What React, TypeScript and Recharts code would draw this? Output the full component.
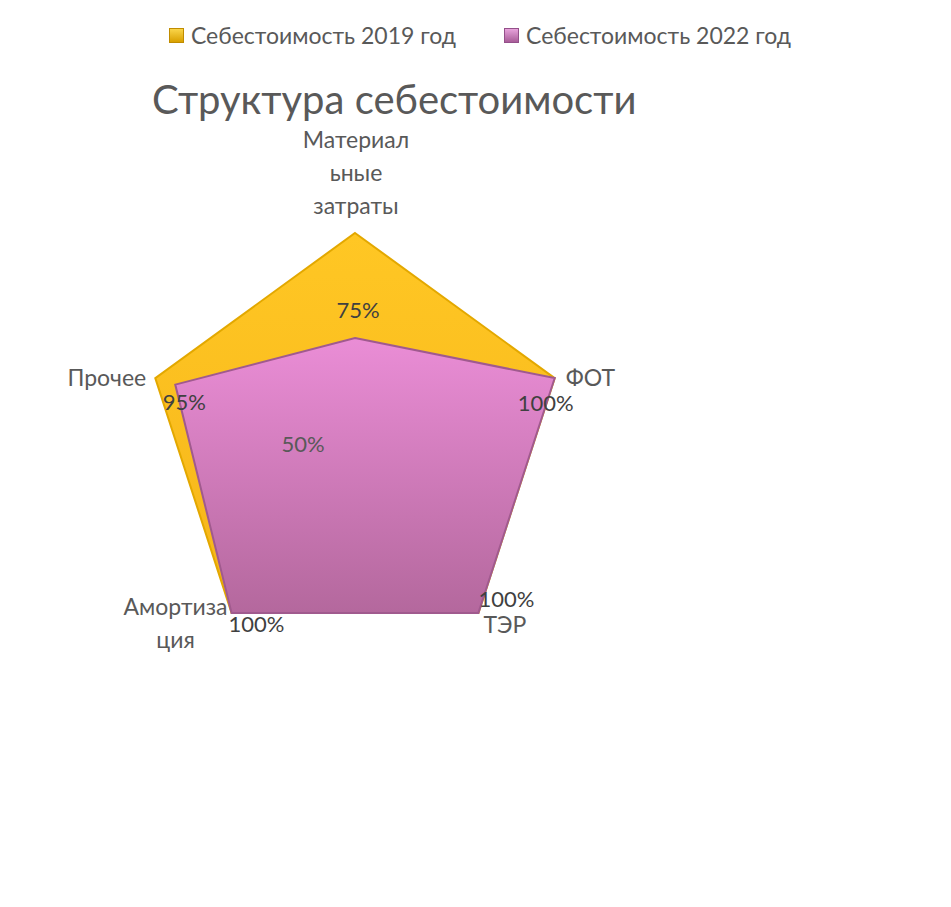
import React from "react";
import { RadarChart, Radar, PolarAngleAxis, PolarRadiusAxis, LabelList } from "recharts";

const categories = ["Материальные затраты", "ФОТ", "ТЭР", "Амортизация", "Прочее"];
const cost2019 = [1, 1, 1, 1, 1];
const cost2022 = [0.75, 1, 1, 1, 0.95];
const radiusTicks = [0.5, 1];
const seriesNames = ["Себестоимость 2019 год", "Себестоимость 2022 год"];
const chartTitle = "Структура себестоимости";

const data = categories.map((name, i) => ({
  name,
  y2019: cost2019[i],
  y2022: cost2022[i],
}));

const CX = 347;
const CY = 435;
const R = 210;
const FONT = "Lato, 'Noto Sans', sans-serif";
const GRAY = "#595959";

// label offsets from each vertex
const catOffsets = [
  { dx: 1, dy: -94, anchor: "middle" },
  { dx: 11, dy: -1, anchor: "start" },
  { dx: 5, dy: 11, anchor: "start" },
  { dx: -56, dy: -7, anchor: "middle" },
  { dx: -9, dy: -1, anchor: "end" },
];
const valOffsets = [
  { dx: 3, dy: -29 },
  { dx: -9, dy: 24 },
  { dx: 28, dy: -14 },
  { dx: 25, dy: 11 },
  { dx: 9, dy: 17 },
];

function wrap(text: string, max = 8) {
  const out: string[] = [];
  text.split(" ").forEach((w) => {
    let s = w;
    while (s.length > max) {
      out.push(s.slice(0, max));
      s = s.slice(max);
    }
    out.push(s);
  });
  return out;
}

function CategoryTick(props: any) {
  const { x, y, payload, index } = props;
  const len = Math.hypot(x - CX, y - CY) || 1;
  const vx = x - ((x - CX) / len) * 8;
  const vy = y - ((y - CY) / len) * 8;
  const o = catOffsets[index] || { dx: 0, dy: 0, anchor: "middle" };
  const lines = wrap(payload.value);
  return (
    <text
      x={vx + o.dx}
      y={vy + o.dy}
      textAnchor={o.anchor}
      dominantBaseline="central"
      fill={GRAY}
      fontSize={23}
      fontFamily={FONT}
    >
      {lines.map((l, i) => (
        <tspan key={i} x={vx + o.dx} dy={i === 0 ? 0 : 33}>
          {l}
        </tspan>
      ))}
    </text>
  );
}

function RadiusTick(props: any) {
  const { x, y, payload, index } = props;
  if (index !== 0) return <g />;
  return (
    <text
      x={x - 52}
      y={y}
      textAnchor="middle"
      dominantBaseline="central"
      fill={GRAY}
      fontSize={22}
      fontFamily={FONT}
    >
      {Math.round(payload.value * 100) + "%"}
    </text>
  );
}

function ValueLabel(props: any) {
  const { x, y, value, index } = props;
  const o = valOffsets[index] || { dx: 0, dy: 0 };
  return (
    <text
      x={x + o.dx}
      y={y + o.dy}
      textAnchor="middle"
      dominantBaseline="central"
      fill="#404040"
      fontSize={22}
      fontFamily={FONT}
    >
      {Math.round(value * 100) + "%"}
    </text>
  );
}

function App() {
  return (
    <div style={{ position: "relative", width: 935, height: 891, fontFamily: FONT }}>
      <div
        style={{
          position: "absolute",
          top: 13,
          left: 0,
          width: 935,
          display: "flex",
          justifyContent: "center",
          gap: 48,
          fontSize: 23,
          color: GRAY,
          paddingLeft: 9,
          boxSizing: "border-box",
        }}
      >
        {seriesNames.map((n, i) => (
          <div key={n} style={{ display: "flex", alignItems: "center", gap: 7 }}>
            <span
              style={{
                width: 13,
                height: 13,
                display: "inline-block",
                background:
                  i === 0
                    ? "linear-gradient(#F9D54A, #D9A000)"
                    : "linear-gradient(#E7A3DB, #A85C98)",
                border: i === 0 ? "1px solid #C08C00" : "1px solid #94508A",
              }}
            />
            <span>{n}</span>
          </div>
        ))}
      </div>
      <div
        style={{
          position: "absolute",
          top: 67,
          left: 144,
          fontSize: 40,
          color: GRAY,
          whiteSpace: "nowrap",
        }}
      >
        {chartTitle}
      </div>
      <div style={{ position: "absolute", top: 0, left: 0 }}>
        <RadarChart
          width={935}
          height={891}
          data={data}
          cx={CX}
          cy={CY}
          outerRadius={R}
          margin={{ top: 0, right: 0, bottom: 0, left: 0 }}
        >
          <defs>
            <linearGradient id="pinkFill" x1="0" y1="0" x2="0" y2="1">
              <stop offset="0%" stopColor="#EA8DD6" />
              <stop offset="100%" stopColor="#B4689D" />
            </linearGradient>
            <linearGradient id="yellowFill" x1="0" y1="0" x2="0" y2="1">
              <stop offset="0%" stopColor="#FFC724" />
              <stop offset="100%" stopColor="#F6B51A" />
            </linearGradient>
          </defs>
          <PolarAngleAxis dataKey="name" tick={<CategoryTick />} axisLine={false} tickLine={false} />
          <Radar
            name={seriesNames[0]}
            dataKey="y2019"
            fill="url(#yellowFill)"
            fillOpacity={1}
            stroke="#E3A800"
            strokeWidth={2}
            isAnimationActive={false}
          />
          <Radar
            name={seriesNames[1]}
            dataKey="y2022"
            fill="url(#pinkFill)"
            fillOpacity={1}
            stroke="#A05A8E"
            strokeWidth={2}
            isAnimationActive={false}
          >
            <LabelList dataKey="y2022" content={<ValueLabel />} />
          </Radar>
          <PolarRadiusAxis
            angle={90}
            domain={[0.5, 1]}
            ticks={radiusTicks as any}
            tickCount={2}
            axisLine={false}
            tickLine={false}
            tick={<RadiusTick />}
          />
        </RadarChart>
      </div>
    </div>
  );
}

export default App;
